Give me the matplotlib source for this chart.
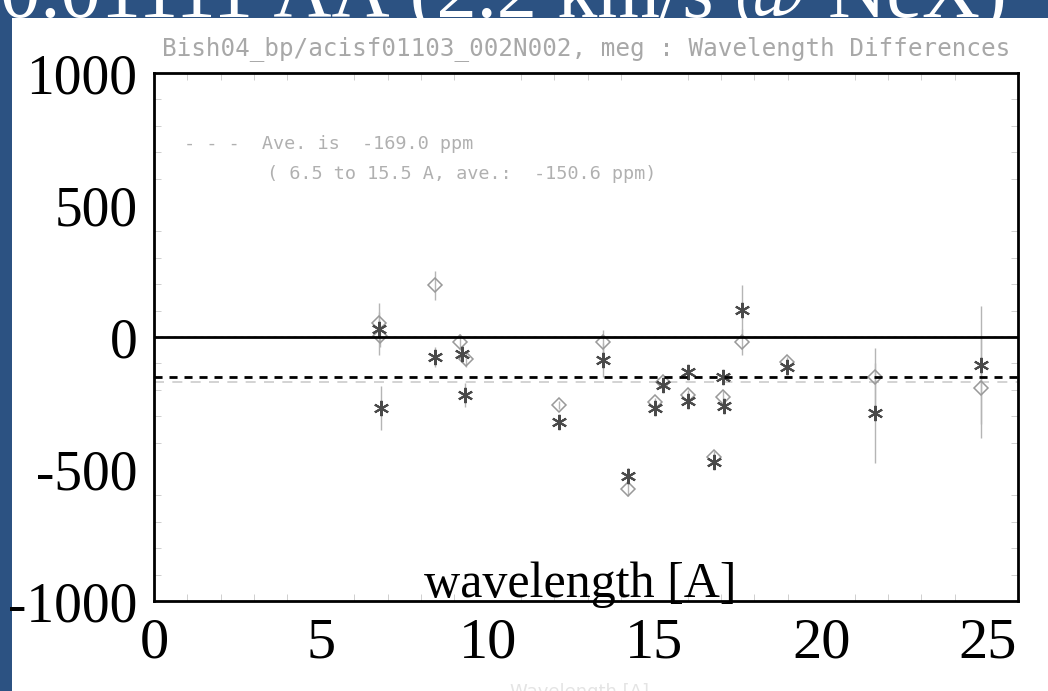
import numpy as np
import matplotlib.pyplot as plt
from matplotlib.patches import Rectangle
from matplotlib.ticker import MultipleLocator

plt.rcParams['axes.unicode_minus'] = False

# datos: diferencias de longitud de onda (ppm) por linea
wl_star = [6.74, 6.80, 8.42, 9.23, 9.32, 12.13, 13.45, 14.21, 15.01, 15.26,
           16.00, 16.02, 16.78, 17.05, 17.08, 17.62, 18.97, 21.60, 24.78]
ppm_star = [30, -268, -75, -64, -219, -321, -87, -528, -268, -181,
            -132, -242, -475, -151, -260, 102, -113, -287, -106]
err_star = [100, 83, 38, 30, 45, 20, 65, 30, 20, 25,
            20, 25, 25, 20, 20, 95, 25, 190, 225]

wl_diam = [6.74, 6.76, 8.42, 9.17, 9.35, 12.13, 13.45, 14.21, 15.01, 15.26,
           16.00, 16.78, 17.05, 17.62, 18.97, 21.60, 24.78]
ppm_diam = [53, 4, 196, -19, -83, -257, -19, -577, -245, -170,
            -219, -453, -226, -19, -94, -151, -192]
err_diam = [40, 40, 55, 30, 30, 15, 45, 25, 15, 15,
            20, 20, 20, 50, 20, 110, 190]

ave_all = -169.0
ave_sub = -150.6

x_ticks = [0, 5, 10, 15, 20, 25]
y_ticks = [-1000, -500, 0, 500, 1000]

blue = '#2c5282'

fig = plt.figure(figsize=(10.48, 6.91), dpi=100)
fig.patch.set_facecolor(blue)
fig.patches.append(Rectangle((12/1048, 0), 1, 1 - 18/691, transform=fig.transFigure,
                             facecolor='white', edgecolor='none', zorder=-10))

# titulo de la diapositiva (cortado arriba)
fig.text(0.0, 1 - 17/691, '0.01111 ÅÅ (2.2 km/s @ NeX)', color='white',
         family='Liberation Serif', fontsize=58, va='baseline', ha='left', zorder=-5)

ax = fig.add_axes([154/1048, 90/691, 864/1048, 528/691])
ax.set_facecolor('none')
ax.set_xlim(0, 25.9)
ax.set_ylim(-1000, 1000)

# grafico original (tenue)
ax.axhline(0, color='#cccccc', lw=1.2, ls=(0, (1.5, 2.5)), zorder=1)
ax.axhline(ave_all, color='#cccccc', lw=1.2, ls=(0, (6, 5)), zorder=1)
ax.errorbar(wl_star, ppm_star, yerr=err_star, fmt='none', ecolor='#b5b5b5',
            elinewidth=1, capsize=0, zorder=2)
ax.errorbar(wl_diam, ppm_diam, yerr=err_diam, fmt='none', ecolor='#b5b5b5',
            elinewidth=1, capsize=0, zorder=2)
ax.plot(wl_diam, ppm_diam, ls='none', marker='D', ms=7, mfc='none',
        mec='#999999', mew=1.1, zorder=3)
ax.plot(wl_star, ppm_star, ls='none', marker=(6, 2, 0), ms=11,
        color='#4a4a4a', mew=1.5, zorder=4)

ax.text(0.5, 1.047, 'Bish04_bp/acisf01103_002N002, meg : Wavelength Differences',
        transform=ax.transAxes, ha='center', va='center', color='#a8a8a8',
        family='DejaVu Sans Mono', fontsize=17.5)
ax.text(0.035, 0.8655, '- - -  Ave. is  -169.0 ppm', transform=ax.transAxes,
        color='#b0b0b0', family='DejaVu Sans Mono', fontsize=13.3,
        ha='left', va='center')
ax.text(0.131, 0.8087, '( 6.5 to 15.5 A, ave.:  -150.6 ppm)', transform=ax.transAxes,
        color='#b0b0b0', family='DejaVu Sans Mono', fontsize=13.3,
        ha='left', va='center')
fig.text(580/1048, 1 - 683/691, 'Wavelength [A]', color='#e4e4e4', fontsize=13,
         ha='center', va='top')

# superposicion de la diapositiva
ax.axhline(0, color='black', lw=2, zorder=5)
ax.axhline(ave_sub, color='black', lw=2, ls=(0, (2.9, 2.5)), zorder=5)
for s in ax.spines.values():
    s.set_linewidth(2)
    s.set_color('black')

ax.xaxis.set_minor_locator(MultipleLocator(1))
ax.yaxis.set_minor_locator(MultipleLocator(100))
ax.tick_params(which='minor', direction='in', length=5, color='#c8c8c8',
               top=True, right=True)
ax.set_xticks(x_ticks)
ax.set_yticks(y_ticks)
ax.tick_params(axis='x', which='major', length=0, labelsize=42, pad=12)
ax.tick_params(axis='y', which='major', length=0, labelsize=40, pad=12)
for lab in ax.get_xticklabels() + ax.get_yticklabels():
    lab.set_family('Liberation Serif')

ax.text(0.493, 0.008, 'wavelength [A]', transform=ax.transAxes, ha='center',
        va='baseline', family='Liberation Serif', fontsize=36, zorder=6)

fig.savefig('out.png', dpi=100, facecolor=fig.get_facecolor())
